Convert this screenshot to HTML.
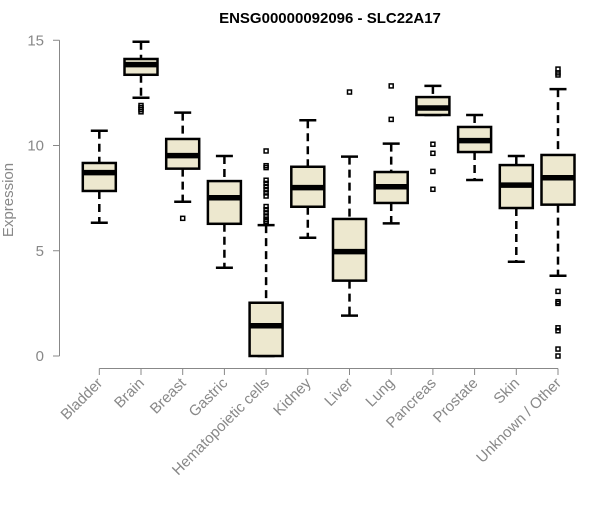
<!DOCTYPE html>
<html><head><meta charset="utf-8"><style>
body{margin:0;background:#fff}
svg text{font-family:"Liberation Sans",Arial,sans-serif}
</style></head><body>
<svg id="chart" width="600" height="500" xmlns="http://www.w3.org/2000/svg">
<text x="330" y="23" text-anchor="middle" font-size="15" font-weight="bold">ENSG00000092096 - SLC22A17</text>
<text transform="translate(13,200) rotate(-90)" text-anchor="middle" font-size="15" fill="#888">Expression</text>
<g id="axes"></g>
<g id="plot"></g>
</svg>
<script>
const categories=["Bladder","Brain","Breast","Gastric","Hematopoietic cells","Kidney","Liver","Lung","Pancreas","Prostate","Skin","Unknown / Other"];
const lowerWhisker=[6.33,12.27,7.33,4.19,0,5.62,1.92,6.3,11.45,8.36,4.48,3.81];
const q1=[7.84,13.36,8.9,6.28,0,7.09,3.58,7.27,11.45,9.69,7.03,7.19];
const medians=[8.71,13.84,9.52,7.52,1.44,8.0,4.96,8.04,11.78,10.23,8.12,8.47];
const q3=[9.17,14.11,10.31,8.31,2.53,8.99,6.51,8.74,12.3,10.88,9.07,9.55];
const upperWhisker=[10.7,14.93,11.56,9.5,6.22,11.2,9.47,10.09,12.83,11.45,9.5,12.68];
const outliers=[[],[11.9,11.8,11.7,11.6],[6.54],[],[9.74,9.04,8.95,8.35,8.2,8.05,7.9,7.75,7.6,7.1,6.95,6.8,6.65,6.5,6.4,6.3],[],[12.54],[12.83,11.24],[10.06,9.63,8.77,7.92],[],[],[13.63,13.45,13.35,3.07,2.58,2.5,1.34,1.2,0.33,0.0]];
const yTicks=[0,5,10,15];

const NS="http://www.w3.org/2000/svg";
const y=v=>356-v*21.05;
const x=i=>99.3+i*41.7;
function mk(tag,attrs,parent){const e=document.createElementNS(NS,tag);for(const k in attrs)e.setAttribute(k,attrs[k]);parent.appendChild(e);return e;}
const axes=document.getElementById('axes'),plot=document.getElementById('plot');
const ya=mk('line',{x1:59.5,x2:59.5,y1:y(15),y2:y(0),stroke:'#888'},axes);


yTicks.forEach(t=>{
 const tl=mk('line',{x1:53,x2:59.5,y1:y(t),y2:y(t),stroke:'#888'},axes);
 
 
 const tx=mk('text',{x:44,y:y(t)+5,'text-anchor':'end','font-size':15,fill:'#888'},axes);
 tx.textContent=t;
 
 
});
const xa=mk('line',{x1:x(0),x2:x(categories.length-1),y1:368.5,y2:368.5,stroke:'#888'},axes);


categories.forEach((c,i)=>{
 const cx=x(i);
 const tk=mk('line',{x1:cx,x2:cx,y1:368.5,y2:375,stroke:'#888'},axes);
 
 
 const t=mk('text',{transform:`translate(${cx+4},${384}) rotate(-45)`,'text-anchor':'end','font-size':15,fill:'#888'},axes);
 t.textContent=c;
 
 
 const g=mk('g',{},plot);
 
 
 mk('line',{x1:cx,x2:cx,y1:y(upperWhisker[i]),y2:y(q3[i]),stroke:'#000','stroke-width':2.5,'stroke-dasharray':'8,5'},g);
 mk('line',{x1:cx,x2:cx,y1:y(q1[i]),y2:y(lowerWhisker[i]),stroke:'#000','stroke-width':2.5,'stroke-dasharray':'8,5'},g);
 mk('line',{x1:cx-8.5,x2:cx+8.5,y1:y(upperWhisker[i]),y2:y(upperWhisker[i]),stroke:'#000','stroke-width':2.5},g);
 mk('line',{x1:cx-8.5,x2:cx+8.5,y1:y(lowerWhisker[i]),y2:y(lowerWhisker[i]),stroke:'#000','stroke-width':2.5},g);
 mk('rect',{x:cx-16.5,y:y(q3[i]),width:33,height:Math.max(0.5,y(q1[i])-y(q3[i])),fill:'#ede8cf',stroke:'#000','stroke-width':2.5},g);
 mk('line',{x1:cx-16.5,x2:cx+16.5,y1:y(medians[i]),y2:y(medians[i]),stroke:'#000','stroke-width':5.5},g);
 outliers[i].forEach(v=>{
  const o=mk('rect',{x:cx-2,y:y(v)-2,width:4,height:4,fill:'none',stroke:'#000','stroke-width':1.5},g);
  
  
 });
});
</script>
</body></html>
